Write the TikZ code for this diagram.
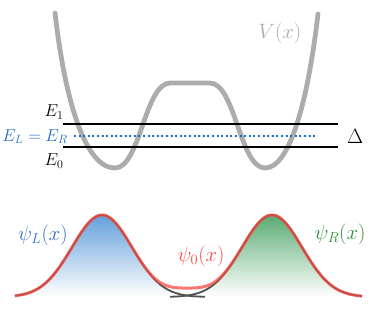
\documentclass[tikz,border=0pt]{standalone}
\usetikzlibrary{calc}
\definecolor{potgray}{RGB}{172,172,172}
\definecolor{eblue}{RGB}{35,105,205}
\definecolor{dotblue}{RGB}{20,110,215}
\definecolor{psiblue}{RGB}{45,110,200}
\definecolor{fillblue}{RGB}{100,160,218}
\definecolor{psigreen}{RGB}{40,140,50}
\definecolor{fillgreen}{RGB}{90,172,115}
\definecolor{psired}{RGB}{245,75,65}
\definecolor{wavegray}{RGB}{80,80,80}
\tikzset{
  potline/.style={line width=4.8pt, potgray, line cap=round, line join=round},
  levelline/.style={line width=2pt, black},
  midline/.style={line width=2.2pt, dotblue, dash pattern=on 2pt off 2.6pt},
  waveline/.style={line width=1.8pt, wavegray},
  redline/.style={line width=3pt, psired, opacity=0.75},
  biglbl/.style={font=\fontsize{20.74}{25}\selectfont, inner sep=0pt},
  vlbl/.style={font=\fontsize{22}{26}\selectfont, inner sep=0pt},
  smalllbl/.style={font=\fontsize{17.28}{20}\selectfont, inner sep=0pt}
}
\begin{document}
\begin{tikzpicture}[x=1pt, y=-1pt]
\useasboundingbox (0,0) rectangle (374,317);
% potential
\draw[potline] (55,13) .. controls (65,100) and (85,168) .. (115,168)
  .. controls (140,168) and (145,83) .. (170,83)
  -- (210,83)
  .. controls (235,83) and (240,168) .. (265,168)
  .. controls (290,168) and (308,100) .. (318,14);
% energy levels
\coordinate (e1a) at (63,124); \coordinate (e1b) at (338,124);
\coordinate (e0a) at (63,147); \coordinate (e0b) at (338,147);
\coordinate (ema) at (74,136); \coordinate (emb) at (317,136);
\draw[levelline] (e1a) -- (e1b);
\draw[levelline] (e0a) -- (e0b);
\draw[midline] (ema) -- (emb);
\node[smalllbl] (E1) at (54,112) {$E_1$};
\node[smalllbl] (E0) at (54,161) {$E_0$};
\node[smalllbl, text=eblue] (ELR) at (35,136.5) {$E_L=E_R$};
\node[biglbl] (D) at (355,136) {$\Delta$};
\node[vlbl, text=potgray] (V) at (280,33) {$V(x)$};
% wavefunctions
\shade[top color=fillblue, bottom color=white, draw=none]
  plot[domain=15:205, samples=120] (\x, {297 - 82*exp(-0.5*((\x-102)/30)^2)}) -- cycle;
\shade[top color=fillgreen, bottom color=white, draw=none]
  plot[domain=170:362, samples=120] (\x, {297 - 82*exp(-0.5*((\x-272)/30)^2)}) -- cycle;
\draw[waveline] plot[domain=15:205, samples=120] (\x, {297 - 82*exp(-0.5*((\x-102)/30)^2)});
\draw[waveline] plot[domain=170:362, samples=120] (\x, {297 - 82*exp(-0.5*((\x-272)/30)^2)});
\draw[redline] plot[domain=15:362, samples=240]
  (\x, {297 - 82*exp(-0.5*((\x-102)/30)^2) - 82*exp(-0.5*((\x-272)/30)^2) - 6*exp(-((\x-187)/25)^2)});
\node[biglbl, text=psiblue] (psiL) at (43,235) {$\psi_L(x)$};
\node[biglbl, text=psired] (psi0) at (201,256) {$\psi_0(x)$};
\node[biglbl, text=psigreen] (psiR) at (340,234) {$\psi_R(x)$};
\end{tikzpicture}
\end{document}
